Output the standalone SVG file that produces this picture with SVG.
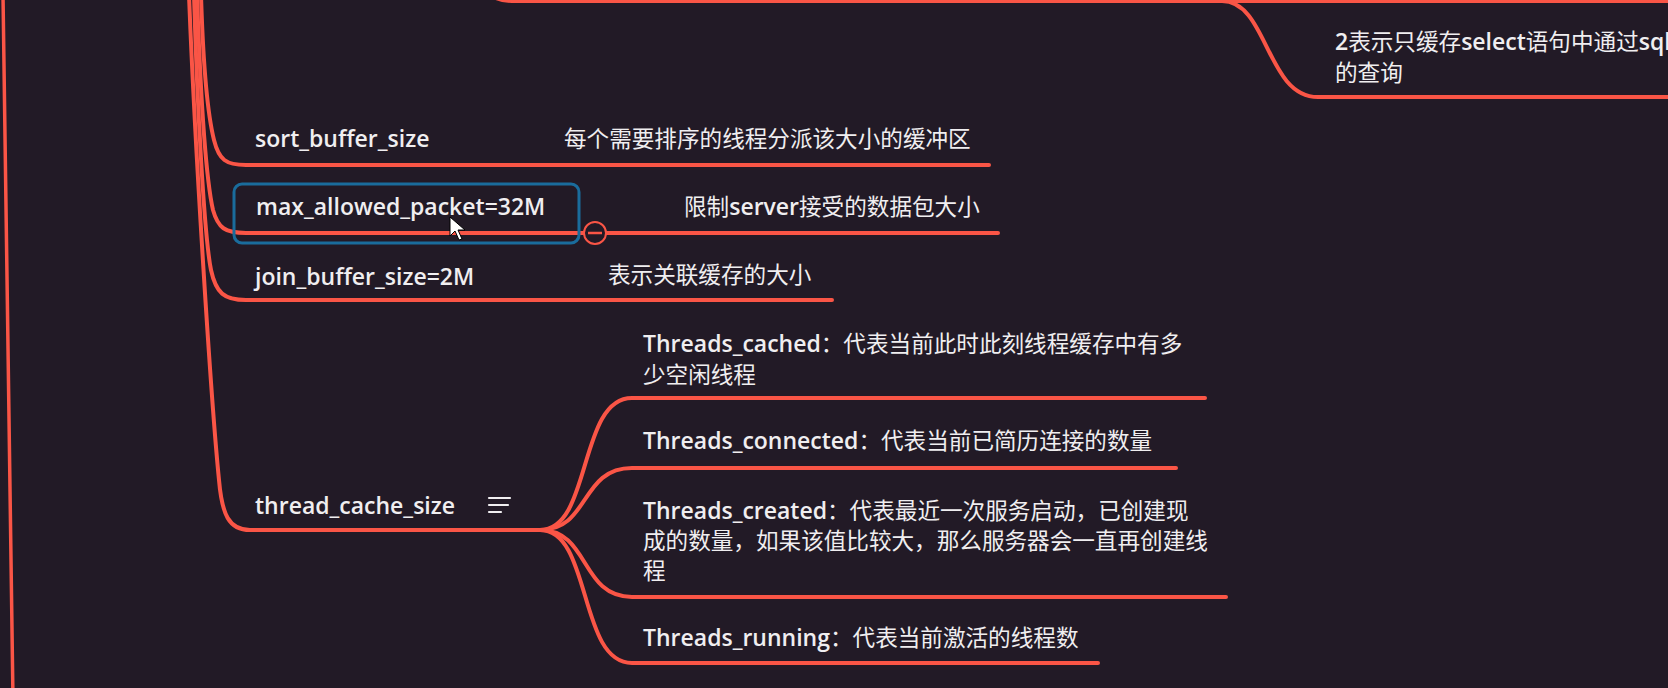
<svg xmlns="http://www.w3.org/2000/svg" width="1668" height="688" viewBox="0 0 1668 688">
<style>
.bg{fill:#221a26}
.ln{fill:none;stroke:#fa5546;stroke-width:4;stroke-linecap:round;stroke-linejoin:round}
.t{font-family:"Open Sans","Noto Sans CJK SC",sans-serif;font-size:22.6px;font-weight:400;fill:#f0eef0}
.l{font-weight:600;font-size:23px}
.sel{fill:none;stroke:#1a6c9c;stroke-width:3}
.ic{stroke:#f0eef0;stroke-width:2.2;stroke-linecap:round}
</style>
<rect class="bg" x="0" y="0" width="1668" height="688"/>
<g id="connectors">
<path class="ln" d="M3,-5 L13,700" style="stroke-width:3.5"/>
<path class="ln" d="M470,-40 C484,-8 490,1 512,1 L1668,1"/>
<path class="ln" d="M1222,1 C1268,1 1266,97 1318,97 L1668,97"/>
<path class="ln" d="M201,-5 C203,60 207,112 214,140 C219,160 226,165 246,165 L989,165"/>
<path class="ln" d="M197,-5 C200,80 205,175 213,210 C218,228 225,233 246,233 L998,233"/>
<path class="ln" d="M194,-5 C197,100 204,235 211,270 C216,293 224,300 246,300 L832,300"/>
<path class="ln" d="M189,-5 C195,150 211,400 219,480 C222,515 229,530 250,530 L540,530"/>
<path class="ln" d="M540,530 C592,530 578,398 632,398 L1205,398"/>
<path class="ln" d="M540,530 C590,530 580,468 632,468 L1176,468"/>
<path class="ln" d="M540,530 C590,530 580,597 632,597 L1226,597"/>
<path class="ln" d="M540,530 C592,530 578,663 632,663 L1098,663"/>
</g>
<g id="node-query-cache-2">
<text class="t" x="1335" y="50"><tspan class="l">2</tspan>表示只缓存<tspan class="l">select</tspan>语句中通过<tspan class="l">sql</tspan></text>
<text class="t" x="1335" y="81">的查询</text>
</g>
<g id="node-sort-buffer">
<text class="t l" x="255" y="147">sort_buffer_size</text>
</g>
<g id="node-sort-desc">
<text class="t" x="564" y="147">每个需要排序的线程分派该大小的缓冲区</text>
</g>
<g id="node-max-packet">
<rect class="sel" x="234" y="184" width="345" height="59" rx="8"/>
<text class="t l" x="256" y="215">max_allowed_packet=32M</text>
<circle cx="595" cy="233" r="11" fill="#221a26" stroke="#fa5546" stroke-width="2"/>
<line x1="588" y1="233" x2="602" y2="233" stroke="#fa5546" stroke-width="2.5"/>
</g>
<g id="node-max-desc">
<text class="t" x="684" y="215">限制<tspan class="l">server</tspan>接受的数据包大小</text>
</g>
<g id="node-join-buffer">
<text class="t l" x="255" y="285">join_buffer_size=2M</text>
</g>
<g id="node-join-desc">
<text class="t" x="608" y="283">表示关联缓存的大小</text>
</g>
<g id="node-thread-cache">
<text class="t l" x="255" y="514">thread_cache_size</text>
<line class="ic" x1="489" y1="498" x2="510" y2="498"/>
<line class="ic" x1="489" y1="505" x2="508" y2="505"/>
<line class="ic" x1="489" y1="512" x2="501" y2="512"/>
</g>
<g id="node-threads-cached">
<text class="t" x="643" y="352"><tspan class="l">Threads_cached</tspan>：代表当前此时此刻线程缓存中有多</text>
<text class="t" x="643" y="383">少空闲线程</text>
</g>
<g id="node-threads-connected">
<text class="t" x="643" y="449"><tspan class="l">Threads_connected</tspan>：代表当前已简历连接的数量</text>
</g>
<g id="node-threads-created">
<text class="t" x="643" y="519"><tspan class="l">Threads_created</tspan>：代表最近一次服务启动，已创建现</text>
<text class="t" x="643" y="549">成的数量，如果该值比较大，那么服务器会一直再创建线</text>
<text class="t" x="643" y="579">程</text>
</g>
<g id="node-threads-running">
<text class="t" x="643" y="646"><tspan class="l">Threads_running</tspan>：代表当前激活的线程数</text>
</g>
<g id="cursor">
<polygon points="450,217 450,236 455,231 459,240 462,239 458,230 465,230" fill="#ffffff" stroke="#000000" stroke-width="1"/>
</g>
</svg>
